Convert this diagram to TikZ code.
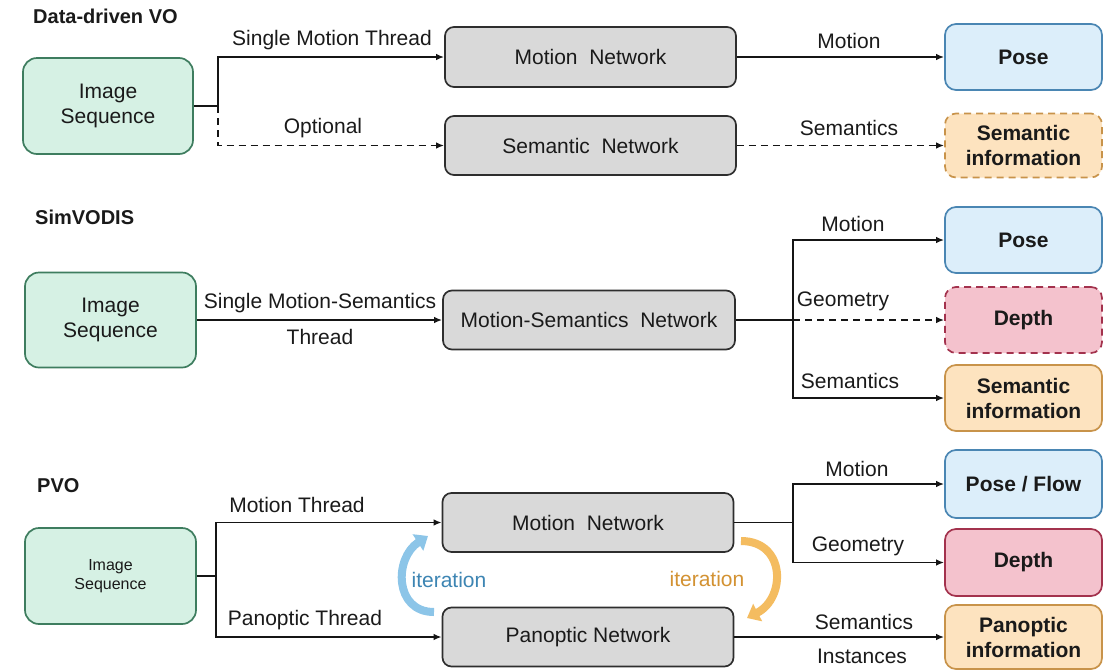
\documentclass[tikz,border=0pt]{standalone}
\usepackage{fontspec}
\setmainfont{Liberation Sans}
\usetikzlibrary{arrows.meta,calc}
\definecolor{txt}{HTML}{1A1A1A}
\definecolor{grnL}{HTML}{D6F1E4}
\definecolor{grnD}{HTML}{3E7D5F}
\definecolor{gryL}{HTML}{D9D9D9}
\definecolor{gryD}{HTML}{2E2E2E}
\definecolor{bluL}{HTML}{DCEEFA}
\definecolor{bluD}{HTML}{4A86B3}
\definecolor{redL}{HTML}{F4C2CD}
\definecolor{redD}{HTML}{A3324D}
\definecolor{orgL}{HTML}{FDE3BF}
\definecolor{orgD}{HTML}{C8934A}
\definecolor{lineC}{HTML}{151515}
\definecolor{iterB}{HTML}{8CC5E8}
\definecolor{iterBT}{HTML}{3D85B3}
\definecolor{iterO}{HTML}{F4BC60}
\definecolor{iterOT}{HTML}{D39232}
\begin{document}
\begin{tikzpicture}[x=1pt,y=-1pt,
  every node/.style={text=txt, font=\fontsize{21}{25}\selectfont},
  lbl/.style={inner sep=0pt},
  ttl/.style={anchor=west, inner sep=0pt, font=\bfseries\fontsize{20}{24}\selectfont},
  imgbox/.style={draw=grnD, fill=grnL, line width=1.7pt, rounded corners=14pt, align=center, inner sep=0pt},
  netbox/.style={draw=gryD, fill=gryL, line width=1.7pt, rounded corners=9pt, inner sep=0pt},
  outbox/.style={line width=1.7pt, rounded corners=11pt, inner sep=0pt, align=center, font=\bfseries\fontsize{21}{25}\selectfont},
  posebox/.style={outbox, draw=bluD, fill=bluL},
  depthbox/.style={outbox, draw=redD, fill=redL},
  infobox/.style={outbox, draw=orgD, fill=orgL},
  plain/.style={line width=1.8pt, draw=lineC},
  conn/.style={plain, -{Latex[length=8pt,width=6.5pt]}},
  dashline/.style={dash pattern=on 7pt off 5pt},
  iterarrow/.style={line width=8pt, -{Triangle[width=19pt,length=12pt]}}
]
\useasboundingbox (0,0) rectangle (1104,670);
\fill[white] (0,0) rectangle (1104,670);

% ---------------- Data-driven VO ----------------
\node[ttl] (t1) at (33,16) {Data-driven VO};
\node[imgbox, minimum width=170pt, minimum height=96pt] (img1) at (108,106) {Image\\Sequence};
\node[netbox, minimum width=291pt, minimum height=60pt] (mn1) at (590.5,57) {Motion\ \ Network};
\node[netbox, minimum width=291pt, minimum height=59pt] (sn1) at (590.5,145.5) {Semantic\ \ Network};
\node[posebox, minimum width=157pt, minimum height=66pt] (pose1) at (1023.5,57) {Pose};
\node[infobox, dashline, minimum width=157pt, minimum height=64pt] (si1) at (1023.5,145.5) {Semantic\\information};
\coordinate (j1) at (218,106);
\draw[plain] (img1.east) -- (j1);
\draw[conn] (j1) |- (mn1.west);
\draw[conn, dashline] (j1) |- (sn1.west);
\draw[conn] (mn1.east) -- (pose1.west);
\draw[conn, dashline] (sn1.east) -- (si1.west);
\node[lbl] (l11) at (332,40) {Single Motion Thread};
\node[lbl] (l12) at (323,128) {Optional};
\node[lbl] (l13) at (849,41) {Motion};
\node[lbl] (l14) at (849,128) {Semantics};

% ---------------- SimVODIS ----------------
\node[ttl] (t2) at (35,217) {SimVODIS};
\node[imgbox, minimum width=171pt, minimum height=95pt] (img2) at (110.5,320) {Image\\Sequence};
\node[netbox, minimum width=292pt, minimum height=59pt] (msn) at (589,320) {Motion-Semantics\ \ Network};
\node[posebox, minimum width=157pt, minimum height=66pt] (pose2) at (1023.5,240) {Pose};
\node[depthbox, dashline, minimum width=157pt, minimum height=66pt] (dep2) at (1023.5,320) {Depth};
\node[infobox, minimum width=157pt, minimum height=66pt] (si2) at (1023.5,398) {Semantic\\information};
\coordinate (j2) at (793,320);
\draw[conn] (img2.east) -- (msn.west);
\draw[plain] (msn.east) -- (j2);
\draw[conn] (j2) |- (pose2.west);
\draw[conn, dashline] (j2) -- (dep2.west);
\draw[conn] (j2) |- (si2.west);
\node[lbl] (l21) at (320,303) {Single Motion-Semantics};
\node[lbl] (l22) at (320,337) {Thread};
\node[lbl] (l23) at (853,224) {Motion};
\node[lbl] (l24) at (843,301) {Geometry};
\node[lbl] (l25) at (850,381) {Semantics};

% ---------------- PVO ----------------
\node[ttl] (t3) at (37,486) {PVO};
\node[imgbox, minimum width=171pt, minimum height=96pt, font=\fontsize{16}{19}\selectfont] (img3) at (110.5,576) {Image\\Sequence};
\node[netbox, minimum width=291pt, minimum height=59pt] (mn3) at (588,522.5) {Motion\ \ Network};
\node[netbox, minimum width=291pt, minimum height=59pt] (pn3) at (588,637) {Panoptic Network};
\node[posebox, minimum width=157pt, minimum height=68pt] (pf3) at (1023.5,484) {Pose / Flow};
\node[depthbox, minimum width=157pt, minimum height=67pt] (d3) at (1023.5,562.5) {Depth};
\node[infobox, minimum width=157pt, minimum height=64pt] (pi3) at (1023.5,637) {Panoptic\\information};
\coordinate (j3) at (216,576);
\coordinate (j4) at (793,522.5);
\draw[plain] (img3.east) -- (j3);
\draw[conn] (j3) |- (mn3.west);
\draw[conn] (j3) |- (pn3.west);
\draw[plain] (mn3.east) -- (j4);
\draw[conn] (j4) |- (pf3.west);
\draw[conn] (j4) |- (d3.west);
\draw[conn] (pn3.east) -- (pi3.west);
\node[lbl] (l31) at (297,505) {Motion Thread};
\node[lbl] (l32) at (305,620) {Panoptic Thread};
\node[lbl] (l33) at (857,469) {Motion};
\node[lbl] (l34) at (858,546) {Geometry};
\node[lbl] (l35) at (864,622) {Semantics};
\node[lbl] (l36) at (862,656) {Instances};

% iteration arrows
\coordinate (bt) at (434,612);
\coordinate (bh) at (428,536);
\coordinate (ot) at (741,541);
\coordinate (oh) at (747,618);
\draw[iterarrow, draw=iterB]
  (bt) .. controls (394,612) and (394,558) .. (bh);
\draw[iterarrow, draw=iterO]
  (ot) .. controls (786,541) and (786,598) .. (oh);
\node[lbl, text=iterBT] (it1) at (449,580) {iteration};
\node[lbl, text=iterOT] (it2) at (707,579) {iteration};
\end{tikzpicture}
\end{document}
